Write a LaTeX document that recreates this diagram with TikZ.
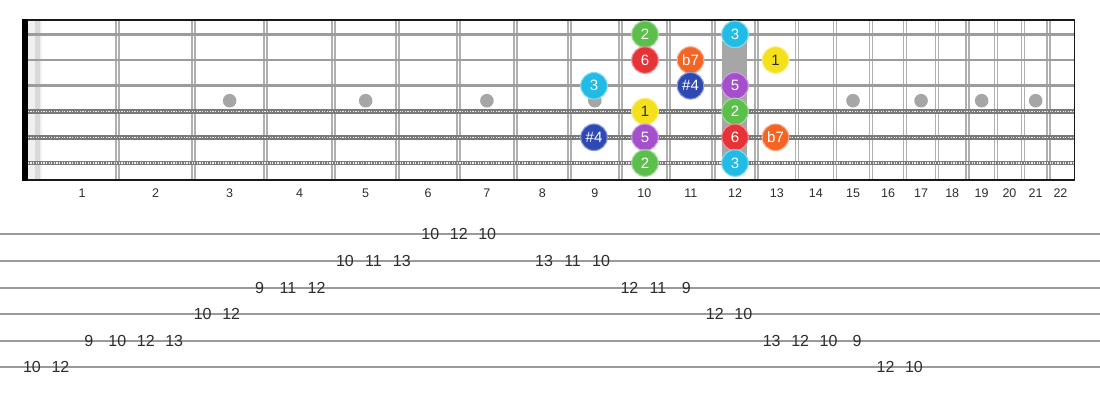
\documentclass[tikz,border=0pt]{standalone}
\usepackage{fontspec}
\setmainfont{Liberation Sans}
\definecolor{cgreen}{HTML}{5CBF4C}
\definecolor{cred}{HTML}{E63338}
\definecolor{corange}{HTML}{F26524}
\definecolor{cyellow}{HTML}{F5E01E}
\definecolor{ccyan}{HTML}{20BCE6}
\definecolor{cblue}{HTML}{2F49B3}
\definecolor{cpurple}{HTML}{A54FCC}
\definecolor{strg}{HTML}{9C9C9C}
\definecolor{woundg}{HTML}{7A7A7A}
\definecolor{fretg}{HTML}{B0B0B0}
\definecolor{inlayg}{HTML}{A6A6A6}
\definecolor{txt}{HTML}{2E2E2E}
\definecolor{tabg}{HTML}{9A9A9A}
\tikzset{
  note/.style={circle, minimum size=26.6pt, inner sep=0pt, fill=#1, draw=#1!55!white, line width=1.1pt, text=white, font=\fontsize{15}{15}\selectfont},
  tabnum/.style={inner sep=0pt, text=txt, font=\fontsize{16}{16}\selectfont},
  fretnum/.style={inner sep=0pt, text=txt, font=\fontsize{12.5}{12.5}\selectfont},
  plainstring/.style={line width=2.8pt, draw=strg},
  woundbase/.style={line width=4.6pt, draw=woundg},
  woundtop/.style={line width=1.2pt, draw=white!85!gray, dash pattern=on 1.2pt off 1.4pt},
  fretline/.style={line width=1.6pt, draw=fretg},
  tabline/.style={line width=2pt, draw=tabg},
  inlay/.style={fill=inlayg},
}
\begin{document}
\begin{tikzpicture}[x=1pt,y=-1pt]
\useasboundingbox (0,0) rectangle (1100,400);
\fill[white] (0,0) rectangle (1100,400);
% nut band
\fill[gray!12] (27.7,20) rectangle (41.7,180);
\fill[gray!30] (35,20) rectangle (40,180);
% frets
\foreach \n in {1,...,21}{
  \pgfmathsetmacro\fx{36.9+1439.6*(1-pow(2,-\n/12))}
  \draw[fretline] (\fx-1.45,20) -- (\fx-1.45,180);
  \draw[fretline] (\fx+1.45,20) -- (\fx+1.45,180);
}
% strings
\foreach \y in {34.3,60.05,85.8}{
  \draw[plainstring] (27.7,\y) -- (1074.5,\y);
}
\foreach \y in {111.55,137.3,163.05}{
  \draw[woundbase] (27.7,\y) -- (1074.5,\y);
  \draw[woundtop] (27.7,\y) -- (1074.5,\y);
}
% border
\draw[line width=1.8pt, black!90] (27.7,20) -- (1074.5,20) -- (1074.5,180) -- (27.7,180);
\fill[black] (22.3,19.1) rectangle (27.7,180.9);
% inlays
\foreach \n in {3,5,7,9,15,17,19,21}{
  \pgfmathsetmacro\fa{36.9+1439.6*(1-pow(2,-(\n-1)/12))}
  \pgfmathsetmacro\fb{36.9+1439.6*(1-pow(2,-\n/12))}
  \fill[inlay] ({(\fa+\fb)/2},100.7) circle (6.8);
}
\fill[inlay] (722.3,41) rectangle (747.3,157);
% fret numbers
\node[fretnum] (fn1) at (82,193) {1};
\foreach \n in {2,...,22}{
  \pgfmathsetmacro\fa{36.9+1439.6*(1-pow(2,-(\n-1)/12))}
  \pgfmathsetmacro\fb{36.9+1439.6*(1-pow(2,-\n/12))}
  \node[fretnum] (fn\n) at ({(\fa+\fb)/2},193) {\n};
}
% notes
\node[note=cgreen]  (s1a) at (645,34.3) {2};
\node[note=ccyan]   (s1b) at (735,34.3) {3};
\node[note=cred]    (s2a) at (645,60.05) {6};
\node[note=corange] (s2b) at (690.5,60.05) {b7};
\node[note=cyellow, text=txt] (s2c) at (775.5,60.05) {1};
\node[note=ccyan]   (s3a) at (594,85.8) {3};
\node[note=cblue]   (s3b) at (690.5,85.8) {\#4};
\node[note=cpurple] (s3c) at (735,85.8) {5};
\node[note=cyellow, text=txt] (s4a) at (645,111.55) {1};
\node[note=cgreen]  (s4b) at (735,111.55) {2};
\node[note=cblue]   (s5a) at (594,137.3) {\#4};
\node[note=cpurple] (s5b) at (645,137.3) {5};
\node[note=cred]    (s5c) at (735,137.3) {6};
\node[note=corange] (s5d) at (775.5,137.3) {b7};
\node[note=cgreen]  (s6a) at (645,163.05) {2};
\node[note=ccyan]   (s6b) at (735,163.05) {3};
% tab lines
\foreach \l in {1,...,6}{
  \pgfmathsetmacro\ty{234.3+26.6*(\l-1)}
  \draw[tabline] (0,\ty) -- (1100,\ty);
}
% tab numbers
\foreach \k/\l/\t in {1/6/10,2/6/12,3/5/9,4/5/10,5/5/12,6/5/13,7/4/10,8/4/12,9/3/9,10/3/11,11/3/12,12/2/10,13/2/11,14/2/13,15/1/10,16/1/12,17/1/10,19/2/13,20/2/11,21/2/10,22/3/12,23/3/11,24/3/9,25/4/12,26/4/10,27/5/13,28/5/12,29/5/10,30/5/9,31/6/12,32/6/10}{
  \pgfmathsetmacro\tx{32+28.45*(\k-1)}
  \pgfmathsetmacro\ty{234.3+26.6*(\l-1)}
  \node[tabnum] (t\k) at (\tx,\ty) {\t};
}
\end{tikzpicture}
\end{document}
